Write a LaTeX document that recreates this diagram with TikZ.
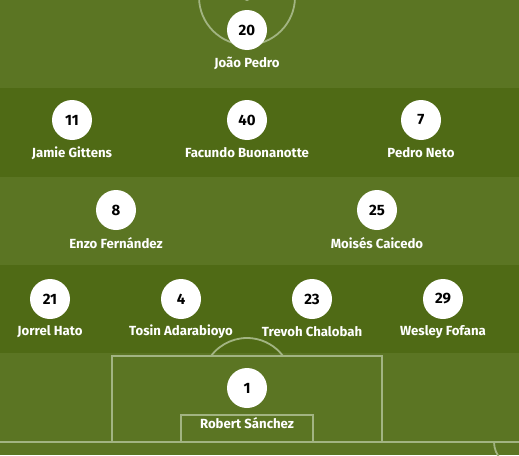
\documentclass[tikz,border=0pt]{standalone}
\usepackage{fontspec}
\setmainfont{Fira Sans}
\begin{document}
\begin{tikzpicture}[x=1pt,y=-1pt,
  pline/.style={draw=linec,line width=1.8pt},
  player/.style={circle,fill=white,minimum size=40pt,inner sep=0pt,font=\fontsize{15}{17}\selectfont\bfseries,text=black},
  pname/.style={text=white,font=\fontsize{13.2}{15}\selectfont\bfseries,inner sep=0pt}]
\definecolor{lightg}{HTML}{5B7523}
\definecolor{darkg}{HTML}{4F6A15}
\definecolor{linec}{HTML}{A2B482}
\useasboundingbox (0,0) rectangle (519,455);
\fill[lightg] (0,0) rectangle (519,455);
\fill[darkg] (0,88) rectangle (519,177);
\fill[darkg] (0,265) rectangle (519,353);
% pitch lines
\begin{scope}
\clip (0,0) rectangle (519,455);
\draw[pline] (247,-3) circle (48);
\fill[linec] (247,-3) circle (4);
\draw[pline] (0,442) -- (519,442);
\draw[pline] (112,442) -- (112,356) -- (382,356) -- (382,442);
\draw[pline] (181,442) -- (181,415) -- (313,415) -- (313,442);
\draw[pline] (211,356) arc[start angle=180+36.87,end angle=360-36.87,radius=45];
\draw[pline] (494,442) arc[start angle=180,end angle=90,radius=25];
\end{scope}
% players
\node[player] (p20) at (247,30) {20};
\node[pname] (n20) at (247,63) {João Pedro};
\node[player] (p11) at (72,120) {11};
\node[pname] (n11) at (72,153) {Jamie Gittens};
\node[player] (p40) at (247,120) {40};
\node[pname] (n40) at (247,153) {Facundo Buonanotte};
\node[player] (p7) at (421,120) {7};
\node[pname] (n7) at (421,153) {Pedro Neto};
\node[player] (p8) at (116,210) {8};
\node[pname] (n8) at (116,243) {Enzo Fernández};
\node[player] (p25) at (377,210) {25};
\node[pname] (n25) at (377,243) {Moisés Caicedo};
\node[player] (p21) at (50,299) {21};
\node[pname] (n21) at (50,332) {Jorrel Hato};
\node[player] (p4) at (181,299) {4};
\node[pname] (n4) at (181,332) {Tosin Adarabioyo};
\node[player] (p23) at (312,299) {23};
\node[pname] (n23) at (312,332) {Trevoh Chalobah};
\node[player] (p29) at (443,299) {29};
\node[pname] (n29) at (443,332) {Wesley Fofana};
\node[player] (p1) at (247,388) {1};
\node[pname] (n1) at (247,423) {Robert Sánchez};
\end{tikzpicture}
\end{document}
